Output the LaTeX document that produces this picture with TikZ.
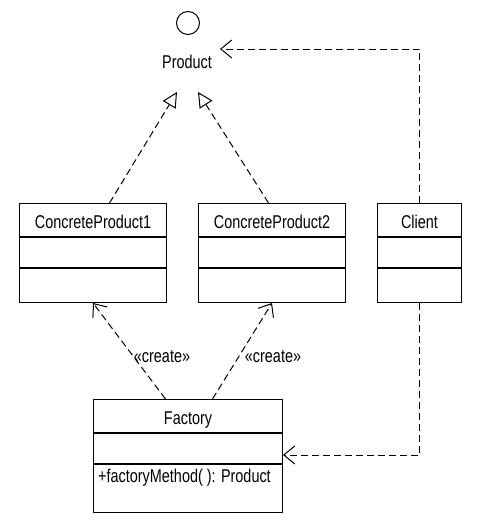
\documentclass[tikz,border=0pt]{standalone}
\usepackage{fontspec}
\setmainfont[FakeStretch=0.78]{Liberation Sans}
\usetikzlibrary{arrows.meta}
\begin{document}
\begin{tikzpicture}[x=1pt,y=-1pt,
  umltext/.style={font=\fontsize{18.5pt}{20pt}\selectfont, inner sep=0pt},
  cls/.style={draw, line width=1pt, inner sep=0pt, text height=17pt, text depth=0pt, font=\fontsize{18.5pt}{20pt}\selectfont},
  dep/.style={line width=1pt, dash pattern=on 7pt off 4pt, -{Straight Barb[length=11pt,width=18pt,line width=1pt]}},
  real/.style={line width=1pt, dash pattern=on 7pt off 4pt, -{Triangle[open,length=15pt,width=15pt,line width=1pt]}}]
\useasboundingbox (0,0) rectangle (481,530);
\fill[white] (0,0) rectangle (481,530);

% interface
\node[circle, draw, line width=1pt, minimum size=23pt, inner sep=0pt] (iface) at (188,23) {};
\node[umltext, anchor=base] (prod) at (187,68) {Product};
\coordinate (rtip1) at (177,92);
\coordinate (rtip2) at (198,92);
\coordinate (ptip) at (220,49);

% ConcreteProduct1
\node[cls, minimum width=147pt, minimum height=33pt, anchor=north west] (cp1t) at (19,203) {ConcreteProduct1};
\node[cls, minimum width=147pt, minimum height=30pt, anchor=north] (cp1a) at (cp1t.south) {};
\node[cls, minimum width=147pt, minimum height=34pt, anchor=north] (cp1o) at (cp1a.south) {};

% ConcreteProduct2
\node[cls, minimum width=147pt, minimum height=33pt, anchor=north west] (cp2t) at (198,203) {ConcreteProduct2};
\node[cls, minimum width=147pt, minimum height=30pt, anchor=north] (cp2a) at (cp2t.south) {};
\node[cls, minimum width=147pt, minimum height=34pt, anchor=north] (cp2o) at (cp2a.south) {};

% Client
\node[cls, minimum width=84pt, minimum height=33pt, anchor=north west] (clt) at (377,203) {Client};
\node[cls, minimum width=84pt, minimum height=30pt, anchor=north] (cla) at (clt.south) {};
\node[cls, minimum width=84pt, minimum height=34pt, anchor=north] (clo) at (cla.south) {};

% Factory
\node[cls, minimum width=189pt, minimum height=33pt, anchor=north west] (fat) at (93,399) {Factory};
\node[cls, minimum width=189pt, minimum height=30pt, anchor=north] (faa) at (fat.south) {};
\node[cls, minimum width=189pt, minimum height=48pt, anchor=north] (fao) at (faa.south) {};
\node[umltext, anchor=base west] (fam) at (98,482) {+factoryMethod( ): Product};
\coordinate (ftip) at (283,455);

% realizations
\draw[real] ([xshift=16.5pt]cp1t.north) -- (rtip1);
\draw[real] ([xshift=-3.5pt]cp2t.north) -- (rtip2);

% creates
\draw[dep] ([xshift=-22.5pt]fat.north) -- (cp1o.south);
\draw[dep] ([xshift=24.5pt]fat.north) -- (cp2o.south);
\node[umltext, anchor=base] (cr1) at (162,362) {«create»};
\node[umltext, anchor=base] (cr2) at (273,362) {«create»};

% client dependencies
\draw[dep] (clt.north) |- (ptip);
\draw[dep] (clo.south) |- (ftip);
\end{tikzpicture}
\end{document}
